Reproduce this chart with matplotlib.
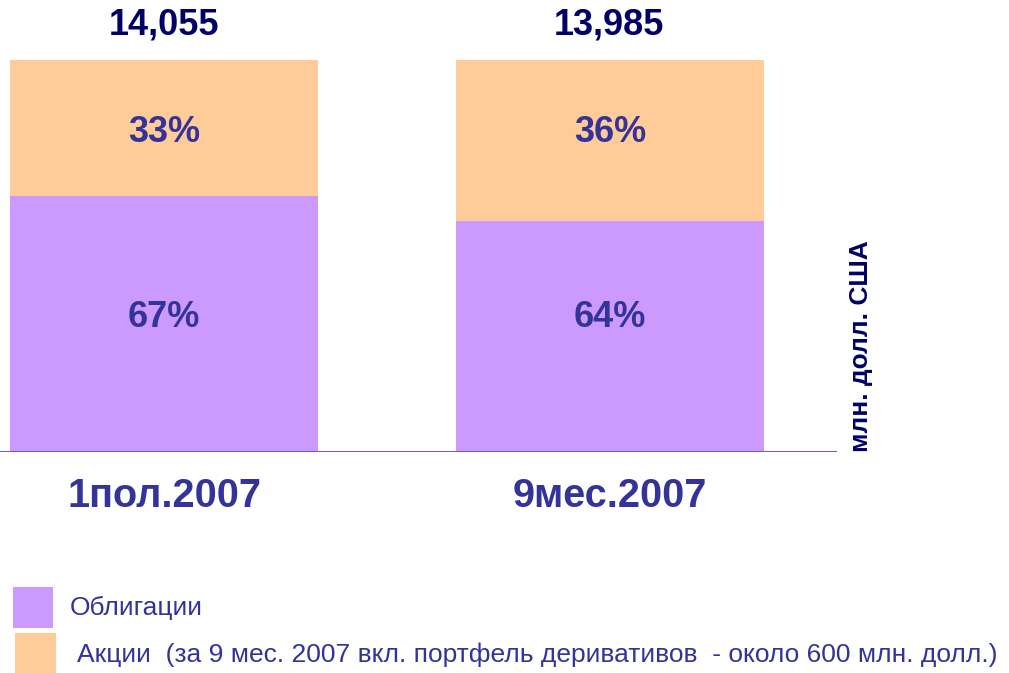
import matplotlib.pyplot as plt
from matplotlib.patches import Rectangle

plt.rcParams['font.family'] = ['Liberation Sans', 'DejaVu Sans']

# data
categories = ['1пол.2007', '9мес.2007']
totals = ['14,055', '13,985']
bonds_pct = [67, 64]          # labelled shares
stocks_pct = [33, 36]
bonds_height = [65.3, 58.9]   # drawn heights of the bars (as in the picture)
stocks_height = [34.7, 41.1]
legend_labels = ['Облигации',
                 'Акции  (за 9 мес. 2007 вкл. портфель деривативов  - около 600 млн. долл.)']

purple = '#CC99FF'
orange = '#FFCC99'
txt = '#333399'
navy = '#000066'

W, H = 1009, 673
fig = plt.figure(figsize=(W / 100, H / 100), dpi=100)

# axes: baseline at y=452px, top at y=60px
ax = fig.add_axes([0, (H - 452) / H, 1, 392 / H])
ax.set_xlim(-164 / 446, (W - 164) / 446)
ax.set_ylim(0, 100)
ax.axis('off')

x = range(len(categories))
ax.bar(x, bonds_height, width=0.69, color=purple, edgecolor='none')
ax.bar(x, stocks_height, bottom=bonds_height, width=0.69, color=orange, edgecolor='none')
ax.axhline(0, xmin=0, xmax=836 / W, color='#6b63b5', lw=1.5)

for i in x:
    ax.text(i, 81.4, f'{stocks_pct[i]}%', ha='center', va='center',
            fontsize=26, fontweight='bold', color=txt)
    ax.text(i, 34.2, f'{bonds_pct[i]}%', ha='center', va='center',
            fontsize=26, fontweight='bold', color=txt)
    ax.text(i - 0.003 * i, 109.0, totals[i], ha='center', va='center',
            fontsize=26, fontweight='bold', color=navy, clip_on=False)
    ax.text(i, -11.2, categories[i], ha='center', va='center',
            fontsize=28.5, fontweight='bold', color=txt, clip_on=False)

fig.text(861 / W, 1 - 346 / H, 'млн. долл. США', rotation=90, ha='center', va='center',
         fontsize=19, fontweight='bold', color=navy)

# legend
fig.add_artist(Rectangle((13 / W, 1 - 628 / H), 40 / W, 41 / H,
                         transform=fig.transFigure, color=purple, lw=0))
fig.add_artist(Rectangle((15 / W, 1 - 673 / H), 41 / W, 40 / H,
                         transform=fig.transFigure, color=orange, lw=0))
fig.text(70 / W, 1 - 608 / H, legend_labels[0], ha='left', va='center', fontsize=19, color=txt)
fig.text(77 / W, 1 - 655 / H, legend_labels[1], ha='left', va='center', fontsize=19, color=txt)

fig.savefig('out.png', dpi=100)
